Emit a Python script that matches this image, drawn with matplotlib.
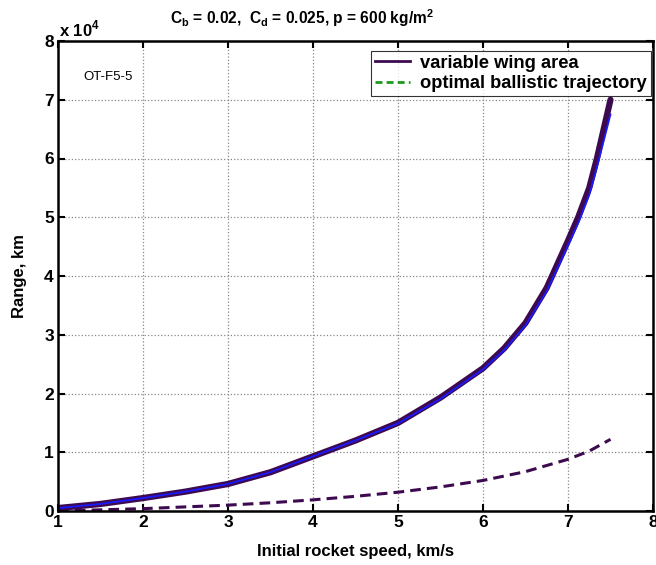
import matplotlib
matplotlib.use("Agg")
import matplotlib.pyplot as plt
from matplotlib.lines import Line2D

plt.rcParams['font.family'] = ['Liberation Sans', 'DejaVu Sans']

# data (range in units of 1e4 km)
speed_wing = [1.0, 1.5, 2.0, 2.5, 3.0, 3.5, 4.0, 4.5, 5.0, 5.5, 6.0, 6.25, 6.5, 6.75, 7.0, 7.12, 7.25, 7.34, 7.42, 7.5]
range_wing = [0.05, 0.12, 0.22, 0.33, 0.46, 0.66, 0.93, 1.2, 1.5, 1.93, 2.43, 2.77, 3.2, 3.8, 4.6, 5.0, 5.5, 6.0, 6.5, 7.0]
range_wing2 = [0.05, 0.12, 0.22, 0.33, 0.46, 0.66, 0.93, 1.2, 1.49, 1.91, 2.41, 2.74, 3.16, 3.74, 4.52, 4.9, 5.38, 5.85, 6.3, 6.75]
speed_ball = [1.0, 1.5, 2.0, 2.5, 3.0, 3.5, 4.0, 4.5, 5.0, 5.5, 6.0, 6.5, 7.0, 7.25, 7.5]
range_ball = [0.0, 0.02, 0.04, 0.07, 0.10, 0.14, 0.19, 0.25, 0.32, 0.41, 0.52, 0.67, 0.88, 1.02, 1.22]
xticks = [1, 2, 3, 4, 5, 6, 7, 8]
yticks = [0, 1, 2, 3, 4, 5, 6, 7, 8]

fig = plt.figure(figsize=(6.56, 5.65), dpi=100)
ax = fig.add_axes([58/656, 1-511/565, (653-58)/656, (511-41)/565])

purple = '#3d0a4f'
ax.plot(speed_wing, range_wing, color=purple, lw=4.5, solid_capstyle='round', solid_joinstyle='round')
ax.plot(speed_wing, range_wing2, color='#1a1aff', lw=1.3, solid_joinstyle='round')
ax.plot(speed_ball, range_ball, color=purple, lw=2.2, ls=(0, (3.5, 2)))

ax.set_xlim(1, 8)
ax.set_ylim(0, 8)
ax.set_xticks(xticks)
ax.set_yticks(yticks)
ax.set_xticklabels([str(t) for t in xticks], fontsize=12.5, fontweight='bold')
ax.set_yticklabels([str(t) for t in yticks], fontsize=12.5, fontweight='bold')
ax.tick_params(direction='in', length=5, width=1.5, top=True, right=True, pad=3)
ax.grid(True, ls=':', color='#888888', lw=0.9)
for s in ax.spines.values():
    s.set_linewidth(1.8)

ax.set_xlabel('Initial rocket speed, km/s', fontsize=12, fontweight='bold', labelpad=10)
ax.set_ylabel('Range, km', fontsize=12, fontweight='bold', labelpad=12)

fig.text(302/656, 1-18/565, r'C$_\mathregular{b}$ = 0.02,  C$_\mathregular{d}$ = 0.025, p = 600 kg/m$^\mathregular{2}$',
         ha='center', va='center', fontsize=11.2, fontweight='bold')
fig.text(59/656, 1-29/565, r'x 10$^\mathregular{4}$', ha='left', va='center', fontsize=12, fontweight='bold')
ax.text(1.3, 7.39, 'OT-F5-5', fontsize=9.5, ha='left', va='center')

handles = [Line2D([], [], color=purple, lw=2),
           Line2D([], [], color='#1a9a1a', lw=2, ls=(0, (2.5, 1.5)))]
leg = fig.legend(handles, ['variable wing area', 'optimal ballistic trajectory'],
                 loc='upper left', bbox_to_anchor=(371/656, 1-51/565),
                 prop={'weight': 'bold', 'size': 13.2}, frameon=True, fancybox=False,
                 borderpad=0.2, labelspacing=0.2, handlelength=1.9, handletextpad=0.6,
                 borderaxespad=0)
leg.get_frame().set_edgecolor('black')
leg.get_frame().set_linewidth(0.8)

fig.savefig('out.png', dpi=100)
